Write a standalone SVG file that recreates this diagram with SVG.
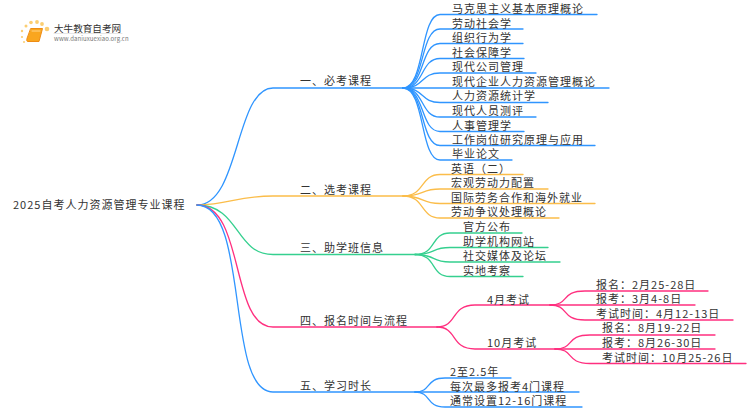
<svg xmlns="http://www.w3.org/2000/svg" width="750" height="410" viewBox="0 0 750 410">
<style>
text{font-family:"Noto Sans CJK SC","Noto Sans",sans-serif;font-size:11px;letter-spacing:1px;fill:#333}
path{fill:none;stroke-width:1.3;stroke-linecap:round}
.b{stroke:#2f95ff}.o{stroke:#fbbd4a}.g{stroke:#35d08f}.p{stroke:#ff2f7f}
</style>
<rect width="750" height="410" fill="#fff"/>
<g id="logo">
<g fill="#fbc65a" opacity=".85"><circle cx="47" cy="29" r="2.3"/><circle cx="42" cy="24" r="1.9"/><circle cx="37" cy="22" r="1.9"/><circle cx="31" cy="22.500" r="1.8"/><circle cx="26" cy="26" r="1.5"/><circle cx="22" cy="31" r="1.2"/><circle cx="22" cy="37" r="1.1"/><circle cx="24" cy="42" r="1"/></g>
<path d="M31 28.500H42.500L39 41.500H28C26.500 41.500 26.500 40 27 38.500Z" style="fill:#f9a61f;stroke:#ee8c14;stroke-width:1"/>
<path d="M32 31H40" style="stroke:#ffd58a;stroke-width:1"/>
<text x="54" y="31.500" style="font-size:9.600px;letter-spacing:0">大牛教育自考网</text>
<path d="M54 33.500H122" style="stroke:#ddd;stroke-width:.7"/>
<text x="54" y="41" style="font-size:6px;letter-spacing:.1px;fill:#777">www.daniuxuexiao.org.cn</text>
</g>
<g id="connectors">
<path class="b" d="M197 205C240 205 235 88 273 88H403"/>
<path class="o" d="M197 205C230 205 235 196 273 196H403"/>
<path class="g" d="M197 205C240 205 235 254.500 273 254.500H415"/>
<path class="p" d="M197 205C245 205 230 327 273 327H437"/>
<path class="b" d="M197 205C250 205 225 392 273 392H415"/>
<path class="b" d="M403 88C425 88 420 14.500 440 14.500H597"/>
<path class="b" d="M403 88C425 88 420 29 440 29H523"/>
<path class="b" d="M403 88C425 88 420 43.500 440 43.500H523"/>
<path class="b" d="M403 88C425 88 420 58.500 440 58.500H524"/>
<path class="b" d="M403 88C425 88 420 73 440 73H536"/>
<path class="b" d="M403 88H609"/>
<path class="b" d="M403 88C425 88 420 102.500 440 102.500H548"/>
<path class="b" d="M403 88C425 88 420 117 440 117H536"/>
<path class="b" d="M403 88C425 88 420 131.500 440 131.500H524"/>
<path class="b" d="M403 88C425 88 420 145.500 440 145.500H595"/>
<path class="b" d="M403 88C425 88 420 160 440 160H512"/>
<path class="o" d="M403 196C425 196 420 174.500 440 174.500H523"/>
<path class="o" d="M403 196C425 196 420 189 440 189H548"/>
<path class="o" d="M403 196C425 196 420 203.500 440 203.500H595"/>
<path class="o" d="M403 196C425 196 420 218 440 218H559"/>
<path class="g" d="M415 254.500C437 254.500 430 233 450 233H522"/>
<path class="g" d="M415 254.500C437 254.500 430 247.500 450 247.500H548"/>
<path class="g" d="M415 254.500C437 254.500 430 262 450 262H560"/>
<path class="g" d="M415 254.500C437 254.500 430 276.500 450 276.500H523"/>
<path class="p" d="M437 327C458 327 450 305 475 305H552"/>
<path class="p" d="M437 327C458 327 450 349 475 349H556"/>
<path class="p" d="M550 305C570 305 560 291 585 291H708"/>
<path class="p" d="M550 305H695"/>
<path class="p" d="M550 305C570 305 560 320 585 320H733"/>
<path class="p" d="M555 349C575 349 565 335 590 335H715"/>
<path class="p" d="M555 349H715"/>
<path class="p" d="M555 349C575 349 565 363.500 590 363.500H746"/>
<path class="b" d="M415 392C432 392 425 378 445 378H511"/>
<path class="b" d="M415 392H579"/>
<path class="b" d="M415 392C432 392 425 407 445 407H582"/>
</g>
<g id="root"><text x="13" y="209">2025自考人力资源管理专业课程</text></g>
<g id="n1"><text x="300" y="85">一、必考课程</text></g>
<g id="n1-1"><text x="452" y="13">马克思主义基本原理概论</text></g>
<g id="n1-2"><text x="452" y="28">劳动社会学</text></g>
<g id="n1-3"><text x="452" y="42">组织行为学</text></g>
<g id="n1-4"><text x="452" y="57">社会保障学</text></g>
<g id="n1-5"><text x="452" y="71">现代公司管理</text></g>
<g id="n1-6"><text x="452" y="86">现代企业人力资源管理概论</text></g>
<g id="n1-7"><text x="452" y="100">人力资源统计学</text></g>
<g id="n1-8"><text x="452" y="115">现代人员测评</text></g>
<g id="n1-9"><text x="452" y="130">人事管理学</text></g>
<g id="n1-10"><text x="452" y="144">工作岗位研究原理与应用</text></g>
<g id="n1-11"><text x="452" y="158">毕业论文</text></g>
<g id="n2"><text x="300" y="194">二、选考课程</text></g>
<g id="n2-1"><text x="451" y="173">英语（二）</text></g>
<g id="n2-2"><text x="451" y="187">宏观劳动力配置</text></g>
<g id="n2-3"><text x="451" y="202">国际劳务合作和海外就业</text></g>
<g id="n2-4"><text x="451" y="216">劳动争议处理概论</text></g>
<g id="n3"><text x="300" y="252">三、助学班信息</text></g>
<g id="n3-1"><text x="463" y="231">官方公布</text></g>
<g id="n3-2"><text x="463" y="246">助学机构网站</text></g>
<g id="n3-3"><text x="463" y="260">社交媒体及论坛</text></g>
<g id="n3-4"><text x="463" y="275">实地考察</text></g>
<g id="n4"><text x="300" y="325">四、报名时间与流程</text></g>
<g id="n4-1"><text x="487" y="304">4月考试</text></g>
<g id="n4-2"><text x="487" y="347">10月考试</text></g>
<g id="n4-1-1"><text x="596" y="289">报名：2月25-28日</text></g>
<g id="n4-1-2"><text x="596" y="303">报考：3月4-8日</text></g>
<g id="n4-1-3"><text x="596" y="318">考试时间：4月12-13日</text></g>
<g id="n4-2-1"><text x="602" y="332">报名：8月19-22日</text></g>
<g id="n4-2-2"><text x="602" y="347">报考：8月26-30日</text></g>
<g id="n4-2-3"><text x="602" y="362">考试时间：10月25-26日</text></g>
<g id="n5"><text x="300" y="390">五、学习时长</text></g>
<g id="n5-1"><text x="450" y="376">2至2.5年</text></g>
<g id="n5-2"><text x="450" y="391">每次最多报考4门课程</text></g>
<g id="n5-3"><text x="450" y="405">通常设置12-16门课程</text></g>
</svg>
